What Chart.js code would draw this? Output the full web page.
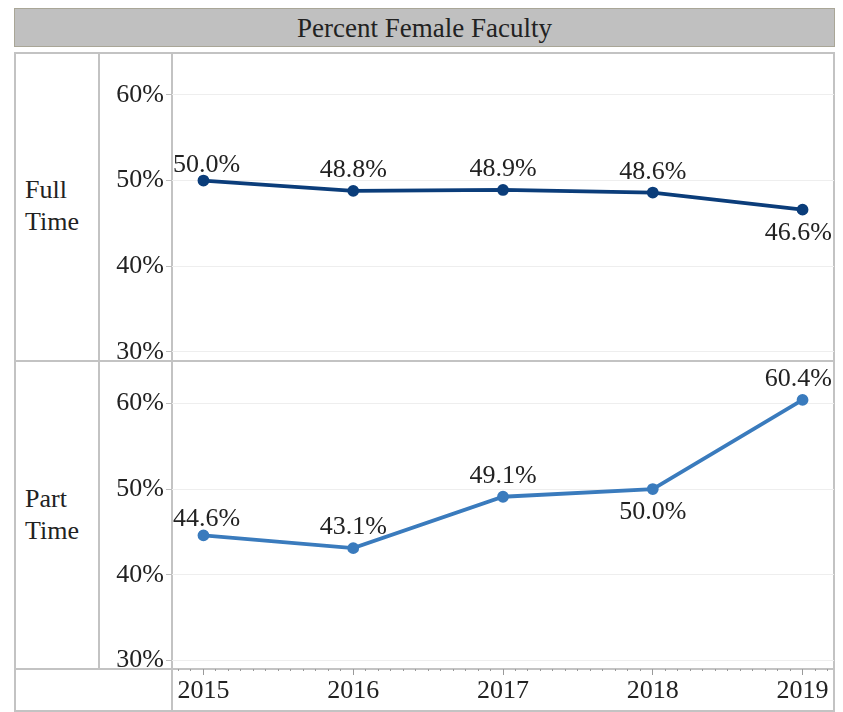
<!DOCTYPE html>
<html>
<head>
<meta charset="utf-8">
<script src="https://cdn.jsdelivr.net/npm/chart.js@4"></script>
<style>
    body { margin: 0; background: #fff; font-family: "Liberation Serif", serif; color: #222; }
    .abs { position: absolute; }
    #title {
        left: 14px; top: 8px; width: 819px; height: 37px;
        background: #c0c0c0; border: 1px solid #a9a697;
        text-align: center; line-height: 38px; font-size: 27px;
    }
    .line { background: #c3c3c3; }
    .rowlab { left: 25px; font-size: 26px; line-height: 32px; }
    #chartBox { left: 99px; top: 52px; width: 735px; height: 660px; }
</style>
</head>
<body>
<div id="title" class="abs">Percent Female Faculty</div>

<!-- cadre du tableau -->
<div class="abs line" style="left:14px; top:52px; width:821px; height:2px;"></div>
<div class="abs line" style="left:14px; top:52px; width:2px; height:660px;"></div>
<div class="abs line" style="left:833px; top:52px; width:2px; height:660px;"></div>
<div class="abs line" style="left:14px; top:710px; width:821px; height:2px;"></div>
<div class="abs line" style="left:14px; top:360px; width:821px; height:2px;"></div>
<div class="abs line" style="left:14px; top:668px; width:821px; height:2px;"></div>
<div class="abs line" style="left:98px; top:52px; width:2px; height:617px;"></div>
<div class="abs line" style="left:171px; top:52px; width:2px; height:660px;"></div>

<div class="abs rowlab" style="top:174px;">Full<br>Time</div>
<div class="abs rowlab" style="top:483px;">Part<br>Time</div>

<div id="chartBox" class="abs"><canvas id="facultyChart"></canvas></div>

<script>
// Valeurs (en %).
const years = [2015, 2016, 2017, 2018, 2019];
const fullTime = [50.0, 48.8, 48.9, 48.6, 46.6];
const partTime = [44.6, 43.1, 49.1, 50.0, 60.4];
const yTickValues = [30, 40, 50, 60];

// Position des étiquettes : au-dessus ou en dessous du point.
const fullTimePlace = ['up', 'up', 'up', 'up', 'down'];
const partTimePlace = ['up', 'up', 'up', 'down', 'up'];

const serif = '"Liberation Serif", serif';

// Dessine les valeurs en texte à côté de chaque point.
const valueLabels = {
    id: 'valueLabels',
    afterDatasetsDraw(chart) {
        const ctx = chart.ctx;
        const area = chart.chartArea;
        ctx.save();
        ctx.font = '26px ' + serif;
        ctx.fillStyle = '#222';
        ctx.textAlign = 'center';
        ctx.textBaseline = 'alphabetic';
        chart.data.datasets.forEach((ds, di) => {
            const meta = chart.getDatasetMeta(di);
            meta.data.forEach((pt, i) => {
                const txt = ds.data[i].y.toFixed(1) + '%';
                const w = ctx.measureText(txt).width;
                let x = Math.max(pt.x, area.left + w / 2 + 1);
                x = Math.min(x, area.right - w / 2 - 2);
                // le premier libellé est décalé à droite, il peut descendre un peu
                const up = i === 0 ? 9 : 14;
                const y = ds.place[i] === 'up' ? pt.y - up : pt.y + 30;
                ctx.fillText(txt, x, y);
            });
        });
        ctx.restore();
    }
};

function yAxis() {
    return {
        type: 'linear',
        position: 'left',
        stack: 'rows',
        stackWeight: 1,
        min: 29,
        max: 65,
        afterBuildTicks: (s) => { s.ticks = yTickValues.map(v => ({ value: v })); },
        afterFit: (s) => { s.width = 73; s.paddingTop = 0; s.paddingBottom = 0; },
        border: { display: false },
        grid: { color: '#eeeeee', tickColor: '#bdbdbd', tickLength: 6 },
        ticks: {
            padding: 2,
            color: '#222',
            font: { family: serif, size: 26 },
            callback: (v) => v + '%'
        }
    };
}

function monthTicks() {
    const out = [];
    for (let m = -2; m <= 50; m++) out.push({ value: 2015 + m / 12 });
    return out;
}

new Chart(document.getElementById('facultyChart'), {
    type: 'line',
    data: {
        datasets: [
            {
                label: 'Full Time',
                data: years.map((x, i) => ({ x: x, y: fullTime[i] })),
                place: fullTimePlace,
                yAxisID: 'yTop',
                borderColor: '#0b3d7a',
                backgroundColor: '#0b3d7a',
                borderWidth: 3.8,
                pointRadius: 4,
                tension: 0
            },
            {
                label: 'Part Time',
                data: years.map((x, i) => ({ x: x, y: partTime[i] })),
                place: partTimePlace,
                yAxisID: 'yBot',
                borderColor: '#3a7bbd',
                backgroundColor: '#3a7bbd',
                borderWidth: 3.8,
                pointRadius: 4,
                tension: 0
            }
        ]
    },
    options: {
        responsive: true,
        maintainAspectRatio: false,
        animation: false,
        layout: { padding: 0, autoPadding: false },
        plugins: { legend: { display: false }, tooltip: { enabled: false } },
        scales: {
            x: {
                type: 'linear',
                position: 'bottom',
                min: 2014.79,
                max: 2019.21,
                afterBuildTicks: (s) => { s.ticks = monthTicks(); },
                afterFit: (s) => { s.height = 43; s.paddingLeft = 0; s.paddingRight = 0; },
                border: { display: false },
                grid: {
                    drawOnChartArea: false,
                    tickLength: 6,
                    tickColor: '#9a9a9a',
                    tickBorderDash: (c) => (c.tick && Number.isInteger(Math.round(c.tick.value * 1e6) / 1e6)) ? [] : [2, 10]
                },
                ticks: {
                    padding: 1,
                    color: '#222',
                    autoSkip: false,
                    maxRotation: 0,
                    font: { family: serif, size: 26 },
                    callback: (v) => {
                        const r = Math.round(v);
                        return Math.abs(v - r) < 1e-6 && years.includes(r) ? String(r) : '';
                    }
                }
            },
            // l'ordre est inversé dans la pile : le dernier déclaré va en haut
            yBot: yAxis(),
            yTop: yAxis()
        }
    },
    plugins: [valueLabels]
});
</script>
</body>
</html>
